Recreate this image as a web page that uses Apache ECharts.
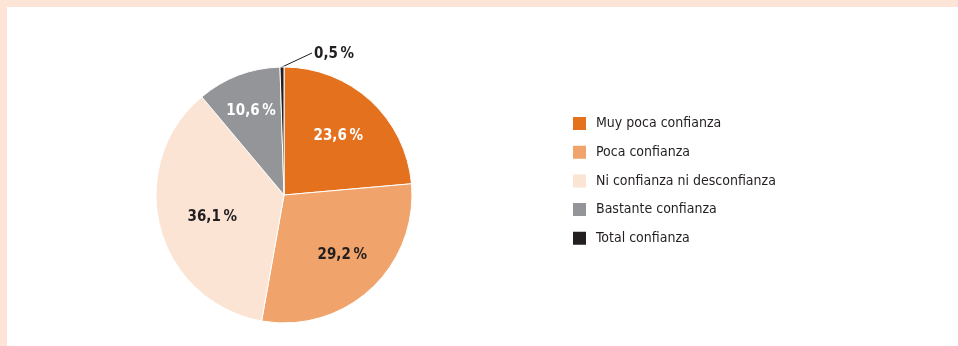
<!DOCTYPE html>
<html><head><meta charset="utf-8">
<script src="https://cdn.jsdelivr.net/npm/echarts@6/dist/echarts.min.js"></script>
<style>html,body{margin:0;padding:0;background:#fff}#c{width:958px;height:346px}</style>
</head><body><div id="c"></div>
<script>
const categories = ['Muy poca confianza','Poca confianza','Ni confianza ni desconfianza','Bastante confianza','Total confianza'];
const values = [23.6, 29.2, 36.1, 10.6, 0.5];
const valueLabels = ['23,6\u2009%','29,2\u2009%','36,1\u2009%','10,6\u2009%','0,5\u2009%'];

const colors = ['#E3711E','#F0A46C','#FBE4D4','#939598','#231F20'];
const labelColors = ['#ffffff','#231F20','#231F20','#ffffff','#231F20'];
const labelOffsets = [[9,-9],[13,11],[-7,5],[-9,-21],[0,0]];
const FONT = '"Liberation Sans Narrow","Arial Narrow","DejaVu Sans Condensed",sans-serif';

const chart = echarts.init(document.getElementById('c'), null, {renderer:'canvas'});
const data = categories.map((n,i)=>({
  name:n, value:values[i],
  itemStyle:{color:colors[i]},
  label: i===4 ? {show:true, position:'outside', color:labelColors[i]} :
    {show:true, position:'inside', color:labelColors[i], offset:labelOffsets[i]},
  labelLine: i===4 ? {show:true, length:6, length2:10, lineStyle:{color:'#231F20', width:1}} : {show:false}
}));
chart.setOption({
  animation:false,
  backgroundColor:'#ffffff',
  graphic:[
    {type:'rect', shape:{x:0,y:0,width:958,height:7}, style:{fill:'#FCE4D6'}, silent:true},
    {type:'rect', shape:{x:0,y:0,width:7,height:346}, style:{fill:'#FCE4D6'}, silent:true}
  ],
  legend:{
    orient:'vertical', left:571, top:115, padding:0,
    icon:'rect', itemWidth:15, itemHeight:15, itemGap:11.7,
    data:categories,
    textStyle:{fontFamily:FONT, fontSize:14, lineHeight:15, color:'#231F20', padding:[0,0,0,4]}
  },
  series:[{
    type:'pie', center:[284,195], radius:[0,128],
    startAngle:90, clockwise:true,
    avoidLabelOverlap:false,
    itemStyle:{borderColor:'#ffffff', borderWidth:1},
    label:{fontFamily:FONT, fontSize:15, fontWeight:'bold',
      formatter:(p)=>valueLabels[p.dataIndex]},
    labelLayout:function(p){
      if(p.dataIndex!==4 || !p.labelLinePoints) return {};
      const p0 = p.labelLinePoints[0];
      const p1 = [p0[0]+30, p0[1]-14];
      return {x:p1[0]+2, y:p1[1]+1, align:'left', verticalAlign:'middle',
        labelLinePoints:[p0, p1, p1]};
    },
    emphasis:{disabled:true},
    data:data
  }]
});
</script></body></html>
